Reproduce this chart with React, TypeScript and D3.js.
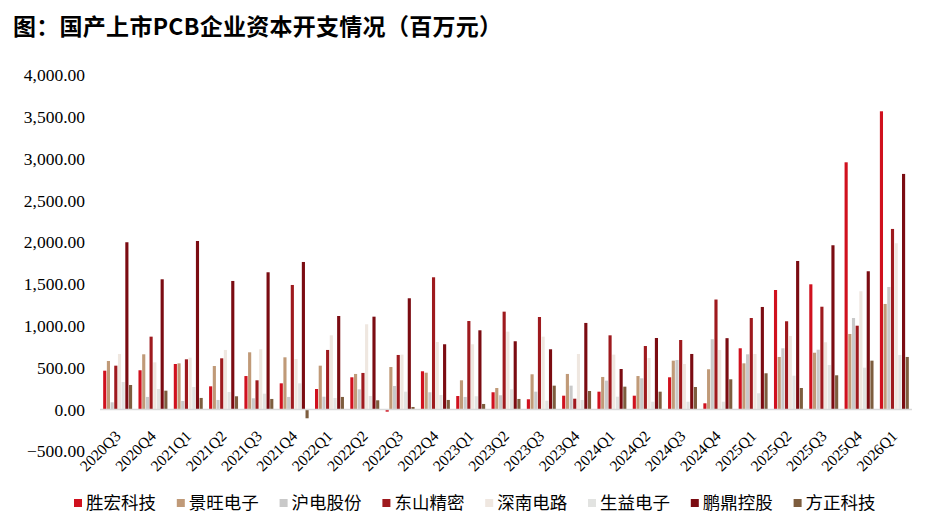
import React from "react";
import * as d3 from "d3";

const quarters = [
  "2020Q3", "2020Q4", "2021Q1", "2021Q2", "2021Q3", "2021Q4",
  "2022Q1", "2022Q2", "2022Q3", "2022Q4", "2023Q1", "2023Q2",
  "2023Q3", "2023Q4", "2024Q1", "2024Q2", "2024Q3", "2024Q4",
  "2025Q1", "2025Q2", "2025Q3", "2025Q4", "2026Q1",
];

const seriesNames = ["胜宏科技", "景旺电子", "沪电股份", "东山精密", "深南电路", "生益电子", "鹏鼎控股", "方正科技"];
const seriesColors = ["#D0111E", "#C09A78", "#C9C9C9", "#9E1A1E", "#EFE7E0", "#E2E3E1", "#7B0C12", "#7D5D3E"];

const shengHong = [464, 469, 544, 277, 400, 313, 245, 385, -26, 457, 161, 206, 122, 165, 213, 165, 385, 74, 732, 1429, 1497, 2956, 3566];
const jingWang = [580, 660, 552, 520, 684, 624, 524, 425, 508, 440, 349, 257, 421, 425, 389, 400, 584, 481, 552, 628, 679, 903, 1262];
const huDian = [86, 150, 102, 114, 134, 150, 153, 241, 281, 206, 150, 170, 213, 285, 345, 373, 592, 840, 660, 732, 715, 1094, 1465];
const dongShan = [524, 871, 600, 612, 349, 1489, 712, 437, 652, 1581, 1058, 1170, 1106, 129, 887, 759, 831, 1315, 1094, 1055, 1229, 1002, 2159];
const shenNan = [664, 564, 620, 712, 720, 604, 887, 1019, 656, 807, 780, 931, 871, 664, 656, 616, 544, 712, 664, 879, 804, 1414, 1988];
const shengYi = [329, 245, 269, 209, 189, 313, 138, 161, 213, 173, 158, 241, 105, 114, 153, 93, 93, 93, 194, 404, 532, 500, 652];
const pengDing = [2000, 1557, 2015, 1537, 1641, 1764, 1118, 1110, 1330, 780, 947, 816, 720, 1035, 484, 855, 664, 853, 1226, 1776, 1964, 1653, 2817];
const fangZheng = [293, 225, 138, 158, 126, -105, 150, 110, 30, 114, 66, 126, 285, 221, 273, 213, 269, 361, 433, 257, 409, 584, 628];

const seriesValues = [shengHong, jingWang, huDian, dongShan, shenNan, shengYi, pengDing, fangZheng];

const yTicks = [-500, 0, 500, 1000, 1500, 2000, 2500, 3000, 3500, 4000];

const W = 926;
const H = 525;
const plotLeft = 100;
const plotRight = 912;

export default function App() {
  const x0 = d3.scaleBand<string>().domain(quarters).range([plotLeft, plotRight]).paddingInner(0.18).paddingOuter(0.09);
  const x1 = d3.scaleBand<string>().domain(seriesNames).range([0, x0.bandwidth()]).paddingInner(0.15);
  const y = d3.scaleLinear().domain([-500, 4000]).range([451.3, 75]);
  const fmt = d3.format(",.2f");
  const y0 = y(0);

  return (
    <svg width={W} height={H} style={{ position: "absolute", left: 0, top: 0, background: "#fff" }}>
      <text x={13} y={35} fontFamily="'Noto Sans CJK SC', sans-serif" fontWeight={700} fontSize={23} fill="#000" textLength={489} lengthAdjust="spacing">
        图：国产上市PCB企业资本开支情况（百万元）
      </text>

      {yTicks.map((t) => (
        <text key={t} x={85} y={y(t)} dy="0.35em" textAnchor="end" fontFamily="'Liberation Serif', 'Times New Roman', serif" fontSize={17.5} fill="#000">
          {fmt(t)}
        </text>
      ))}

      {seriesValues.map((vals, si) => (
        <g key={seriesNames[si]} fill={seriesColors[si]}>
          {vals.map((v, qi) => {
            const xx = (x0(quarters[qi]) ?? 0) + (x1(seriesNames[si]) ?? 0);
            const yy = y(Math.max(0, v));
            const hh = Math.abs(y(v) - y0);
            return <rect key={qi} x={xx} y={yy} width={x1.bandwidth()} height={hh} />;
          })}
        </g>
      ))}

      <line x1={plotLeft} x2={plotRight} y1={y0} y2={y0} stroke="#D9D9D9" strokeWidth={1.5} />

      {quarters.map((q) => {
        const cx = (x0(q) ?? 0) + x0.bandwidth() / 2 + 4;
        const cy = 437;
        return (
          <text key={q} x={cx} y={cy} transform={`rotate(-45 ${cx} ${cy})`} textAnchor="end" fontFamily="'Liberation Serif', 'Times New Roman', serif" fontSize={15.5} fill="#000">
            {q}
          </text>
        );
      })}

      {seriesNames.map((name, i) => {
        const lx = 74 + i * 102.8;
        return (
          <g key={name}>
            <rect x={lx} y={499} width={8} height={8} fill={seriesColors[i]} />
            <text x={lx + 12} y={503} dy="0.36em" fontFamily="'Noto Sans CJK SC', sans-serif" fontSize={17.5} fill="#000">
              {name}
            </text>
          </g>
        );
      })}
    </svg>
  );
}
